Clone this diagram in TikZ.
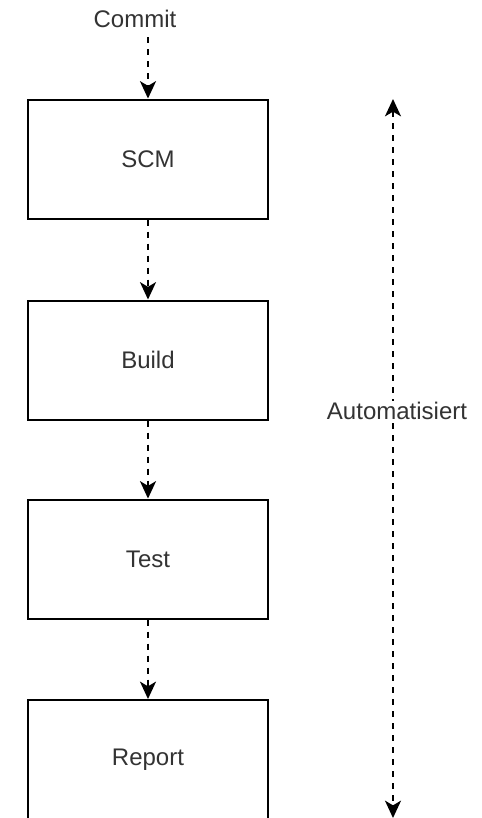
\documentclass[tikz,border=0pt]{standalone}
\usepackage{fontspec}
\setmainfont{Liberation Sans}
\usetikzlibrary{arrows.meta}
\definecolor{txt}{HTML}{333333}
\tikzset{
  tip/.tip={Stealth[length=13pt,width=12pt,inset=3.5pt]},
  stage/.style={draw=black, line width=1.5pt, fill=white, minimum width=240*0.75pt, minimum height=119*0.75pt, inner sep=0pt, text=txt, font=\fontsize{18}{22}\selectfont},
  flow/.style={draw=black, line width=1.5pt, dash pattern=on 4.5pt off 4.5pt, -tip},
  lbl/.style={text=txt, font=\fontsize{18}{22}\selectfont, inner sep=1pt}
}
\begin{document}
\begin{tikzpicture}[x=0.75pt, y=-0.75pt]
\useasboundingbox (0,0) rectangle (482,818);
\fill[white] (0,0) rectangle (482,818);
\begin{scope}
\clip (0,0) rectangle (482,818);
% pipeline stages
\node[lbl] (commit) at (135,19) {Commit};
\node[stage] (scm) at (148,159) {SCM};
\node[stage] (build) at (148,360) {Build};
\node[stage] (test) at (148,559) {Test};
\node[stage] (report) at (148,759.5) {Report};
\coordinate (c0) at (148,37);
\draw[flow] (c0) -- (scm.north);
\draw[flow] (scm.south) -- (build.north);
\draw[flow] (build.south) -- (test.north);
\draw[flow] (test.south) -- (report.north);
% span of the automated part
\coordinate (top) at (393,99);
\coordinate (bot) at (393,818);
\draw[flow, tip-tip] (top) -- (bot);
\node[lbl, fill=white] (auto) at (397,411) {Automatisiert};
\end{scope}
\end{tikzpicture}
\end{document}
